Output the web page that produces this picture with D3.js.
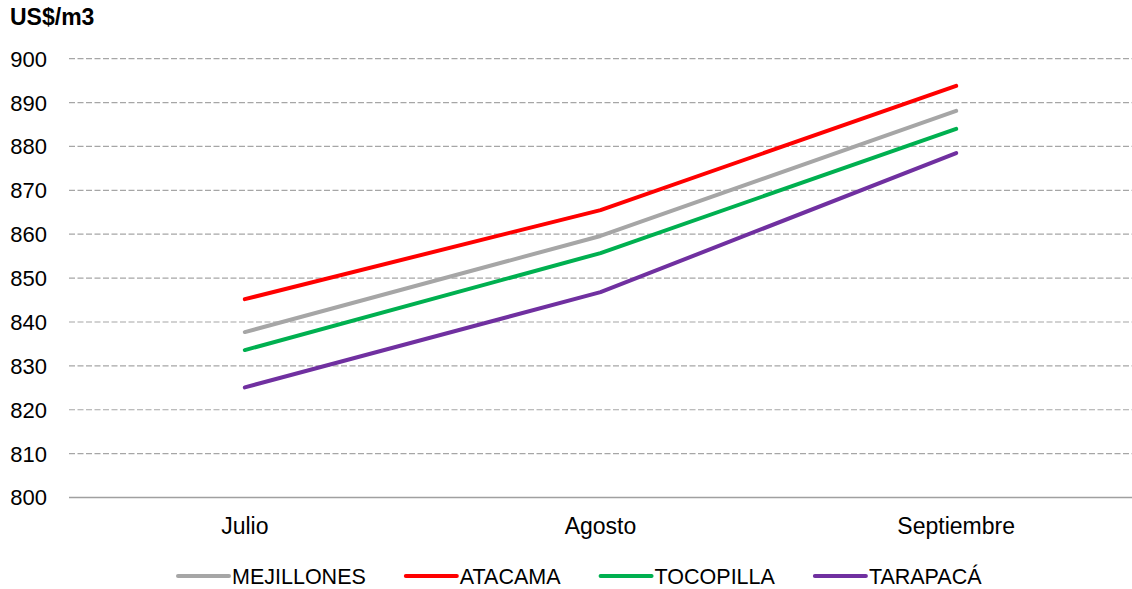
<!DOCTYPE html>
<html>
<head>
<meta charset="utf-8">
<script src="https://cdn.jsdelivr.net/npm/d3@7"></script>
<style>
  html, body { margin: 0; padding: 0; background: #fff; }
  svg { display: block; font-family: "Liberation Sans", Arial, sans-serif; }
</style>
</head>
<body>
<svg id="chart" width="1132" height="589"></svg>
<script>
// Monthly prices by zone (US$/m3)
const months = ["Julio", "Agosto", "Septiembre"];
const mejillones = [837.7, 859.6, 888.1];
const atacama = [845.2, 865.5, 893.8];
const tocopilla = [833.6, 855.7, 884.0];
const tarapaca = [825.1, 846.8, 878.5];
const yTicks = [800, 810, 820, 830, 840, 850, 860, 870, 880, 890, 900];

const seriesNames = ["MEJILLONES", "ATACAMA", "TOCOPILLA", "TARAPACÁ"];
const seriesValues = [mejillones, atacama, tocopilla, tarapaca];
const seriesColors = ["#a6a6a6", "#ff0000", "#00b050", "#7030a0"];

const svg = d3.select("#chart");
const plotLeft = 69, plotRight = 1132, plotTop = 58.7, plotBottom = 497.5;

const x = d3.scalePoint().domain(months).range([67, 1134]).padding(0.5);
const y = d3.scaleLinear().domain([800, 900]).range([plotBottom, plotTop]);

// Dashed horizontal gridlines
svg.append("g").selectAll("line")
  .data(yTicks.filter(d => d !== 800))
  .join("line")
  .attr("x1", plotLeft).attr("x2", plotRight)
  .attr("y1", d => y(d)).attr("y2", d => y(d))
  .attr("stroke", "#a6a6a6")
  .attr("stroke-width", 1.2)
  .attr("stroke-dasharray", "6,2.5");

// Baseline
svg.append("line")
  .attr("x1", plotLeft).attr("x2", plotRight)
  .attr("y1", y(800)).attr("y2", y(800))
  .attr("stroke", "#a0a0a0").attr("stroke-width", 1.5);

// Y axis labels
svg.append("g").selectAll("text")
  .data(yTicks)
  .join("text")
  .attr("x", 47)
  .attr("y", d => y(d))
  .attr("dy", "0.36em")
  .attr("text-anchor", "end")
  .attr("font-size", 22)
  .attr("fill", "#000")
  .text(d => d);

// X axis labels
svg.append("g").selectAll("text")
  .data(months)
  .join("text")
  .attr("x", d => x(d))
  .attr("y", 534)
  .attr("text-anchor", "middle")
  .attr("font-size", 23)
  .attr("fill", "#000")
  .text(d => d);

// Unit title
svg.append("text")
  .attr("x", 10).attr("y", 25)
  .attr("font-size", 23)
  .attr("font-weight", "bold")
  .text("US$/m3");

// Series lines
const line = d3.line()
  .x((d, i) => x(months[i]))
  .y(d => y(d));

svg.append("g").selectAll("path")
  .data(seriesValues)
  .join("path")
  .attr("d", d => line(d))
  .attr("fill", "none")
  .attr("stroke", (d, i) => seriesColors[i])
  .attr("stroke-width", 4)
  .attr("stroke-linecap", "round")
  .attr("stroke-linejoin", "round");

// Legend
const legend = svg.append("g");
let lx = 178;
const ly = 576;
seriesNames.forEach((name, i) => {
  legend.append("line")
    .attr("x1", lx).attr("x2", lx + 51)
    .attr("y1", ly).attr("y2", ly)
    .attr("stroke", seriesColors[i])
    .attr("stroke-width", 4)
    .attr("stroke-linecap", "round");
  const t = legend.append("text")
    .attr("x", lx + 54).attr("y", ly)
    .attr("dy", "0.36em")
    .attr("font-size", 21.5)
    .attr("fill", "#000")
    .text(name);
  lx = lx + 54 + t.node().getComputedTextLength() + 40;
});
</script>
</body>
</html>
